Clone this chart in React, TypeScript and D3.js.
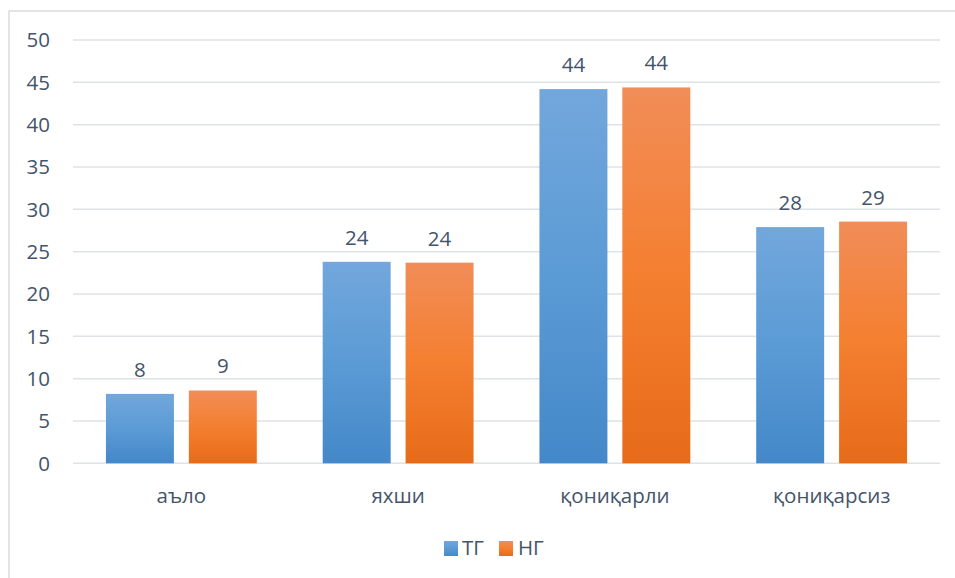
import React from "react";
import * as d3 from "d3";

const categories = ["аъло", "яхши", "қониқарли", "қониқарсиз"];
const seriesNames = ["ТГ", "НГ"];
const tgValues = [8.2, 23.8, 44.2, 27.9];
const ngValues = [8.6, 23.7, 44.4, 28.55];
const yTicks = [0, 5, 10, 15, 20, 25, 30, 35, 40, 45, 50];

const W = 955;
const H = 578;
const plot = { left: 73, right: 940, top: 40, bottom: 463.3 };
const textColor = "#44546a";
const font = "'Open Sans', sans-serif";
const fs = 20.5;

export default function App() {
  const x0 = d3.scaleBand<string>().domain(categories).range([plot.left, plot.right]).paddingInner(0.304).paddingOuter(0.152);
  const x1 = d3.scaleBand<string>().domain(seriesNames).range([0, x0.bandwidth()]).paddingInner(0.18);
  const y = d3.scaleLinear().domain([0, 50]).range([plot.bottom, plot.top]);
  const series = [
    { name: "ТГ", values: tgValues, grad: "gBlue" },
    { name: "НГ", values: ngValues, grad: "gOrange" },
  ];
  return (
    <svg width={W} height={H} style={{ position: "absolute", left: 0, top: 0, background: "#fff" }}>
      <defs>
        <linearGradient id="gBlue" x1="0" y1="0" x2="0" y2="1">
          <stop offset="0" stopColor="#72a7dc" />
          <stop offset="0.5" stopColor="#5b9bd5" />
          <stop offset="1" stopColor="#4488c9" />
        </linearGradient>
        <linearGradient id="gOrange" x1="0" y1="0" x2="0" y2="1">
          <stop offset="0" stopColor="#f18d58" />
          <stop offset="0.5" stopColor="#f47f30" />
          <stop offset="1" stopColor="#e76b19" />
        </linearGradient>
      </defs>
      <rect x={9} y={11} width={955} height={580} fill="#fff" stroke="#d9dce1" strokeWidth={1.5} />
      {yTicks.map((t) => (
        <g key={t}>
          <line x1={plot.left} x2={plot.right} y1={y(t)} y2={y(t)} stroke="#dfe2e7" strokeWidth={1.5} />
          <text x={50} y={y(t)} dy="0.36em" textAnchor="end" fontFamily={font} fontSize={fs} fill={textColor}>
            {t}
          </text>
        </g>
      ))}
      {series.map((s) => (
        <g key={s.name}>
          {categories.map((c, i) => {
            const bx = (x0(c) ?? 0) + (x1(s.name) ?? 0);
            const v = s.values[i];
            return (
              <g key={c}>
                <rect x={bx} y={y(v)} width={x1.bandwidth()} height={y(0) - y(v)} fill={`url(#${s.grad})`} />
                <text x={bx + x1.bandwidth() / 2} y={y(v) - 17} textAnchor="middle" fontFamily={font} fontSize={fs} fill={textColor}>
                  {Math.round(v)}
                </text>
              </g>
            );
          })}
        </g>
      ))}
      {categories.map((c) => (
        <text key={c} x={(x0(c) ?? 0) + x0.bandwidth() / 2} y={502.5} textAnchor="middle" fontFamily={font} fontSize={fs} fill={textColor}>
          {c}
        </text>
      ))}
      <g>
        <rect x={444} y={541} width={14} height={15} fill="url(#gBlue)" />
        <text x={462} y={555} fontFamily={font} fontSize={fs} fill={textColor}>{seriesNames[0]}</text>
        <rect x={499} y={541} width={14} height={15} fill="url(#gOrange)" />
        <text x={518} y={555} fontFamily={font} fontSize={fs} fill={textColor}>{seriesNames[1]}</text>
      </g>
    </svg>
  );
}
